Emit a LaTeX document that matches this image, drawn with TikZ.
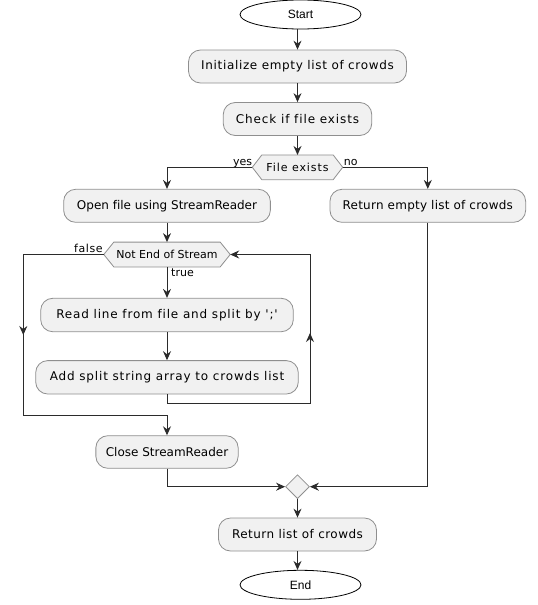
\documentclass[tikz,border=0pt]{standalone}
\usepackage{fontspec}
\setmainfont{DejaVu Sans}[Ligatures={CommonOff,TeXOff}]
\newfontfamily\termfont{Liberation Sans}
\usetikzlibrary{shapes.geometric,arrows.meta,backgrounds}
\definecolor{boxfill}{HTML}{F1F1F1}
\definecolor{boxline}{HTML}{8F8F8F}
\definecolor{connc}{HTML}{2B2B2B}
\tikzset{
  actbox/.style={draw=boxline, fill=boxfill, rounded corners=12pt, inner sep=0pt,
    font=\fontsize{12}{14}\selectfont, line width=0.8pt},
  termnode/.style={ellipse, draw=black, fill=white, minimum width=121pt, minimum height=29pt,
    inner sep=0pt, font=\termfont\fontsize{12}{14}\selectfont, line width=0.8pt},
  decnode/.style={inner sep=0pt, font=\fontsize{11}{13}\selectfont},
  hexfill/.style={draw=boxline, fill=boxfill, line width=0.8pt},
  mergenode/.style={diamond, draw=boxline, fill=boxfill, minimum width=24pt, minimum height=24pt,
    inner sep=0pt, line width=0.8pt},
  connline/.style={draw=connc, line width=1pt},
  arr/.style={connline, -{Stealth[length=9pt,width=8pt,inset=3pt]}},
  lbl/.style={inner sep=0pt, font=\fontsize{11}{13}\selectfont},
}
\newcommand{\drawhexof}[2]{%
  \path[hexfill] (#1.west) -- ([xshift=#2]#1.north west) -- ([xshift=-#2]#1.north east)
    -- (#1.east) -- ([xshift=-#2]#1.south east) -- ([xshift=#2]#1.south west) -- cycle;}
\begin{document}
\begin{tikzpicture}[x=1pt,y=-1pt]
\useasboundingbox (0,0) rectangle (538,605);

% nodes
\node[termnode] (start) at (300.5,14.5) {Start};
\node[actbox, minimum width=218pt, minimum height=33pt] (init) at (297.5,66.5)
  {\addfontfeatures{LetterSpace=5.5}Initialize empty list of crowds};
\node[actbox, minimum width=148.5pt, minimum height=33pt] (check) at (297.5,119)
  {\addfontfeatures{LetterSpace=7.5}Check if file exists};
\node[decnode, minimum width=90pt, minimum height=24.3pt] (fileex) at (297.5,167.3)
  {\addfontfeatures{LetterSpace=8.5}File exists};
\node[actbox, minimum width=206.7pt, minimum height=33pt] (open) at (167,205.8)
  {Open file using StreamReader};
\node[actbox, minimum width=195.7pt, minimum height=33pt] (retempty) at (427.8,205.8)
  {\addfontfeatures{LetterSpace=2}Return empty list of crowds};
\node[decnode, minimum width=126pt, minimum height=24.4pt] (notend) at (167,254.5)
  {Not End of Stream};
\node[actbox, minimum width=252.6pt, minimum height=33.4pt] (read) at (167,315)
  {\addfontfeatures{LetterSpace=7}Read line from file and split by ';'};
\node[actbox, minimum width=262.6pt, minimum height=33.4pt] (add) at (167,377.3)
  {\addfontfeatures{LetterSpace=7}Add split string array to crowds list};
\node[actbox, minimum width=142.3pt, minimum height=32.6pt] (close) at (167,452)
  {Close StreamReader};
\node[mergenode] (merge) at (297.5,486.7) {};
\node[actbox, minimum width=158pt, minimum height=33pt] (retlist) at (297.5,534.5)
  {\addfontfeatures{LetterSpace=4}Return list of crowds};
\node[termnode] (end) at (300.5,584.8) {End};

\begin{scope}[on background layer]
  \drawhexof{fileex}{9.5pt}
  \drawhexof{notend}{10pt}
\end{scope}

% labels
\node[lbl, anchor=base east] (lyes) at ([yshift=2pt]fileex.west) {yes};
\node[lbl, anchor=base west] (lno) at ([xshift=1pt,yshift=2pt]fileex.east) {no};
\node[lbl, anchor=base east] (lfalse) at ([xshift=-1pt,yshift=2pt]notend.west)
  {\addfontfeatures{LetterSpace=5}false};
\node[lbl, anchor=north west] (ltrue) at ([xshift=4pt,yshift=-2pt]notend.south) {true};

% helper coordinates
\coordinate (loopbot) at (310,403.3);
\coordinate (loopmid) at (310,333);
\coordinate (exitL) at (23.3,415.7);
\coordinate (exitmid) at (23.3,335);

% connectors
\draw[arr] (init.north |- start.south) -- (init.north);
\draw[arr] (init.south) -- (check.north);
\draw[arr] (check.south) -- (fileex.north);
\draw[arr] (fileex.west) -| (open.north);
\draw[arr] (fileex.east) -| (retempty.north);
\draw[arr] (open.south) -- (notend.north);
\draw[arr] (notend.south) -- (read.north);
\draw[arr] (read.south) -- (add.north);
\draw[arr] (add.south) |- (loopbot) -- (loopbot |- notend.east) -- (notend.east);
\draw[arr] (loopbot) -- (loopmid);
\draw[arr] (notend.west) -| (exitL) -| (close.north);
\draw[arr] (notend.west -| exitL) -- (exitmid);
\draw[arr] (close.south) |- (merge.west);
\draw[arr] (retempty.south) |- (merge.east);
\draw[arr] (merge.south) -- (retlist.north);
\draw[arr] (retlist.south) -- (retlist.south |- end.north);
\end{tikzpicture}
\end{document}
